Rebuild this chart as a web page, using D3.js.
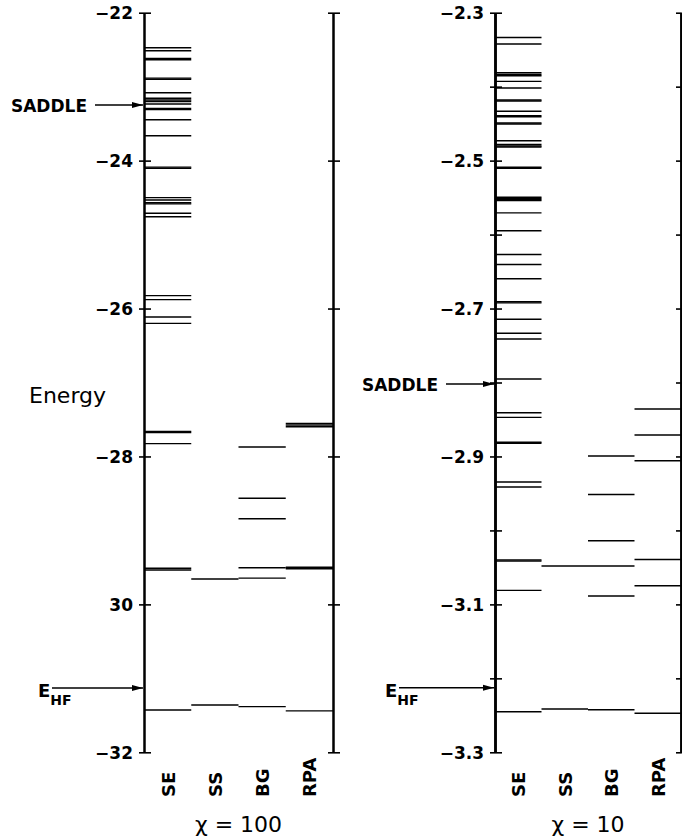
<!DOCTYPE html>
<html>
<head>
<meta charset="utf-8">
<script src="https://d3js.org/d3.v7.min.js"></script>
<style>
  body { margin: 0; background: #fff; }
  svg text { font-family: "DejaVu Sans", sans-serif; fill: #000; }
</style>
</head>
<body>
<div id="chart"></div>
<script>
// methods along each panel
var methods = ["SE", "SS", "BG", "RPA"];

// chi = 100 energy levels (thick bars in the scan are near-degenerate pairs)
var chi100SE = [-22.473, -22.514, -22.618, -22.636, -22.884, -22.900, -23.082, -23.157,
  -23.180, -23.200, -23.234, -23.294, -23.310, -23.447, -23.663, -24.088, -24.104,
  -24.501, -24.533, -24.569, -24.585, -24.712, -24.758, -25.826, -25.880, -26.114,
  -26.200, -27.662, -27.676, -27.827, -29.512, -29.535, -31.428];
var chi100SS = [-29.657, -31.360];
var chi100BG = [-27.872, -28.566, -28.842, -29.505, -29.645, -31.383];
var chi100RPA = [-27.552, -27.575, -27.598, -29.498, -29.518, -31.440];

// chi = 10 energy levels
var chi10SE = [-2.3335, -2.3423, -2.3812, -2.3835, -2.3852, -2.3928, -2.4018, -2.4180,
  -2.4194, -2.4332, -2.4392, -2.4406, -2.4491, -2.4505, -2.4731, -2.4782, -2.4802,
  -2.4816, -2.5089, -2.5103, -2.5495, -2.5510, -2.5525, -2.5540, -2.5706, -2.5949,
  -2.6269, -2.6405, -2.6598, -2.6909, -2.6923, -2.7145, -2.7335, -2.7412, -2.7953,
  -2.8408, -2.8471, -2.8807, -2.8821, -2.9345, -2.9413, -3.0398, -3.0414, -3.0810,
  -3.2451];
var chi10SS = [-3.0481, -3.2415];
var chi10BG = [-2.8994, -2.9514, -3.0139, -3.0481, -3.0887, -3.2424];
var chi10RPA = [-2.8358, -2.8710, -2.9057, -3.0393, -3.0748, -3.2473];

// axis ticks
var chi100Ticks = [-22, -24, -26, -28, -30, -32];
var chi100TickLabels = ["\u221222", "\u221224", "\u221226", "\u221228", "30", "\u221232"];
var chi10Ticks = [-2.3, -2.5, -2.7, -2.9, -3.1, -3.3];
var chi10TickLabels = ["\u22122.3", "\u22122.5", "\u22122.7", "\u22122.9", "\u22123.1", "\u22123.3"];
var chi10MinorTicks = [-2.4, -2.6, -2.8, -3.0, -3.2];

// marked energies
var chi100Saddle = -23.247;
var chi100EHF = -31.13;
var chi10Saddle = -2.802;
var chi10EHF = -3.2127;

var svgWidth = 682;
var svgHeight = 838;
var plotTop = 12.7;
var plotBottom = 752.3;

var svg = d3.select("#chart")
  .append("svg")
  .attr("width", svgWidth)
  .attr("height", svgHeight);

svg.append("defs").append("marker")
  .attr("id", "arrow")
  .attr("markerUnits", "userSpaceOnUse")
  .attr("viewBox", "0 -4 11 8")
  .attr("refX", 11)
  .attr("refY", 0)
  .attr("markerWidth", 11)
  .attr("markerHeight", 8)
  .attr("orient", "auto")
  .append("path")
  .attr("d", "M0,-3L11,0L0,3Z")
  .attr("fill", "#000");

// crossing ticks: one axis drawn to each side of the line
function crossAxis(g, yScale, values, labels, pad) {
  var left = d3.axisLeft(yScale)
    .tickValues(values)
    .tickSizeInner(5)
    .tickSizeOuter(0)
    .tickPadding(pad)
    .tickFormat((d, i) => labels ? labels[i] : "");
  var right = d3.axisRight(yScale)
    .tickValues(values)
    .tickSizeInner(7)
    .tickSizeOuter(0)
    .tickFormat("");

  var a = g.append("g").call(left);
  g.append("g").call(right);
  g.selectAll("path.domain").attr("stroke-width", 2);
  g.selectAll(".tick line").attr("stroke-width", 1.6);
  a.selectAll("text")
    .attr("font-family", "DejaVu Sans")
    .attr("font-weight", "bold")
    .attr("font-size", "17px")
    .attr("dy", "0.36em");
}

function drawPanel(p) {
  var yScale = d3.scaleLinear()
    .domain(p.domain)
    .range([plotTop, plotBottom]);

  var xScale = d3.scaleBand()
    .domain(methods)
    .range([p.x0, p.x1])
    .padding(0);

  var panel = svg.append("g");

  // left axis with labels
  var leftAxis = panel.append("g").attr("transform", `translate(${p.x0}, 0)`);
  crossAxis(leftAxis, yScale, p.ticks, p.tickLabels, 6);
  if (p.minor) {
    crossAxis(leftAxis, yScale, p.minor, null, 6);
  }

  // right axis, no labels
  var rightAxis = panel.append("g").attr("transform", `translate(${p.x1}, 0)`);
  crossAxis(rightAxis, yScale, p.ticks, null, 6);
  if (p.minor) {
    crossAxis(rightAxis, yScale, p.minor, null, 6);
  }

  // energy levels
  var rows = [];
  methods.forEach((m, i) => {
    p.levels[i].forEach(v => rows.push({ method: m, value: v }));
  });

  panel.selectAll(".level")
    .data(rows)
    .enter()
    .append("line")
    .classed("level", true)
    .attr("x1", d => xScale(d.method))
    .attr("x2", d => xScale(d.method) + xScale.bandwidth())
    .attr("y1", d => yScale(d.value))
    .attr("y2", d => yScale(d.value))
    .attr("stroke", "#000")
    .attr("stroke-width", 1.4);

  // method labels, rotated, reading bottom to top
  panel.selectAll(".methodLabel")
    .data(methods)
    .enter()
    .append("text")
    .classed("methodLabel", true)
    .attr("transform", d => `translate(${xScale(d) + xScale.bandwidth() / 2 + 7}, 797) rotate(-90)`)
    .attr("text-anchor", "start")
    .attr("font-weight", "bold")
    .attr("font-size", "18px")
    .text(d => d);

  // chi label
  panel.append("text")
    .attr("x", (p.x0 + p.x1) / 2)
    .attr("y", 832)
    .attr("text-anchor", "middle")
    .attr("font-size", "22px")
    .text(p.chiLabel);

  // saddle arrow
  var ys = yScale(p.saddle);
  panel.append("line")
    .attr("x1", p.saddleArrowStart)
    .attr("x2", p.x0 - 1)
    .attr("y1", ys)
    .attr("y2", ys)
    .attr("stroke", "#000")
    .attr("stroke-width", 1.4)
    .attr("marker-end", "url(#arrow)");
  panel.append("text")
    .attr("x", p.saddleArrowStart - 8)
    .attr("y", ys + 7)
    .attr("text-anchor", "end")
    .attr("font-weight", "bold")
    .attr("font-size", "17px")
    .text("SADDLE");

  // Hartree-Fock arrow
  var ye = yScale(p.ehf);
  panel.append("line")
    .attr("x1", p.ehfX + 14)
    .attr("x2", p.x0 - 1)
    .attr("y1", ye)
    .attr("y2", ye)
    .attr("stroke", "#000")
    .attr("stroke-width", 1.4)
    .attr("marker-end", "url(#arrow)");
  var ehfText = panel.append("text")
    .attr("x", p.ehfX)
    .attr("y", ye + 9)
    .attr("font-weight", "bold")
    .attr("font-size", "18px");
  ehfText.append("tspan").text("E");
  ehfText.append("tspan")
    .attr("font-size", "14px")
    .attr("dy", 8)
    .text("HF");
}

drawPanel({
  x0: 144,
  x1: 333,
  domain: [-22, -32],
  levels: [chi100SE, chi100SS, chi100BG, chi100RPA],
  ticks: chi100Ticks,
  tickLabels: chi100TickLabels,
  minor: null,
  saddle: chi100Saddle,
  saddleArrowStart: 95,
  ehf: chi100EHF,
  ehfX: 38,
  chiLabel: "\u03c7 = 100"
});

drawPanel({
  x0: 495,
  x1: 681,
  domain: [-2.3, -3.3],
  levels: [chi10SE, chi10SS, chi10BG, chi10RPA],
  ticks: chi10Ticks,
  tickLabels: chi10TickLabels,
  minor: chi10MinorTicks,
  saddle: chi10Saddle,
  saddleArrowStart: 446,
  ehf: chi10EHF,
  ehfX: 385,
  chiLabel: "\u03c7 = 10"
});

// y axis title
svg.append("text")
  .attr("x", 29)
  .attr("y", 403)
  .attr("font-size", "22px")
  .text("Energy");
</script>
</body>
</html>
